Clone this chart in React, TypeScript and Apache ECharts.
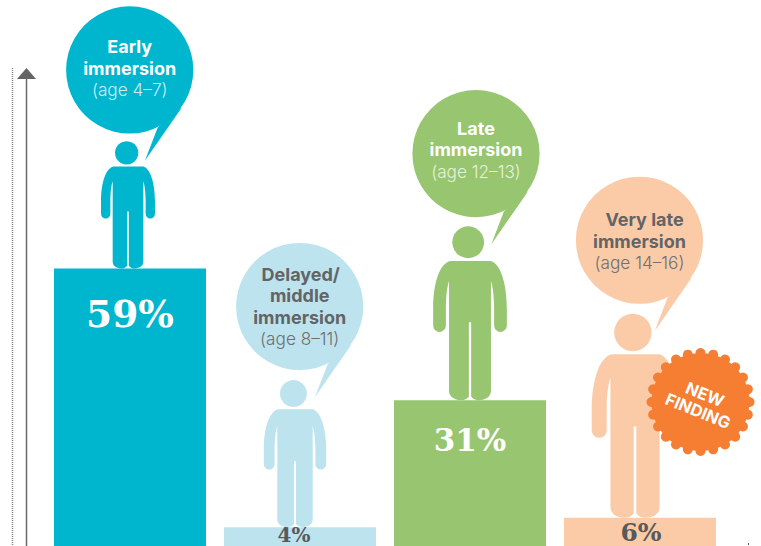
import React, { useEffect, useRef } from "react";
import * as echarts from "echarts";

// ---- data ----
const categories = [
  "Early immersion (age 4–7)",
  "Delayed/middle immersion (age 8–11)",
  "Late immersion (age 12–13)",
  "Very late immersion (age 14–16)",
];
const shares = [59, 4, 31, 6];
const valueLabels = ["59%", "4%", "31%", "6%"];
const bubbleTitles = [
  ["Early", "immersion"],
  ["Delayed/", "middle", "immersion"],
  ["Late", "immersion"],
  ["Very late", "immersion"],
];
const bubbleAges = ["(age 4–7)", "(age 8–11)", "(age 12–13)", "(age 14–16)"];
const badgeLines = ["NEW", "FINDING"];

// ---- styles and layout ----
const barColors = ["#00B6CE", "#BDE3EE", "#98C56F", "#FBCBA8"];
const titleColors = ["#FFFFFF", "#636466", "#FFFFFF", "#636466"];
const ageColors = ["#CDEEF4", "#6E7073", "#E6F1DA", "#6E7073"];
const labelColors = ["#FFFFFF", "#58595B", "#FFFFFF", "#58595B"];
const labelSizes = [37.5, 20, 31, 25];
const labelLineHeights = [44, 15, 36, 22];
const labelDistances = [24, 0.5, 22, 4];
const labelDx = [0, -6, 0, 1];
const personScales = [1 / 3, 0.385, 0.455, 0.534];
const personDx = [-2, -5, 0, -5];
const bubbleDx = [-0.3, -0.3, 6, -0.5];
const bubbleRise = [198.5, 220.7, 246.5, 277.5];
const textFirstDy = [-23.5, -32.3, -25.5, -20.5];
const firstLineDx = [0, 1, 0, 5];
const LINE = 21.6;
const R = 63.6;

const PERSON =
  "M-44 -306 L46 -306 C66 -300 81 -260 81 -200 L81 -165 C81 -145 53 -145 53 -165 L53 -200 C53 -230 50 -250 46 -262 L46 -20 C46 -5 30 0 20 0 C12 0 6 -3 2.5 -8 L2.5 -171 L-2.5 -171 L-2.5 -8 C-6 -3 -12 0 -20 0 C-30 0 -46 -5 -46 -20 L-46 -262 C-50 -250 -53 -230 -53 -200 L-53 -165 C-53 -145 -81 -145 -81 -165 L-81 -200 C-81 -260 -66 -300 -44 -306 Z";
echarts.graphic.registerShape("personShape", (echarts.graphic as any).extendPath(PERSON, {}));

const FONT = "Inter, 'Liberation Sans', Arial, sans-serif";

function renderFigure(_: any, api: any) {
  const i = api.value(0);
  const [cx, top] = api.coord([i, api.value(1)]);
  const s = personScales[i];
  const color = barColors[i];
  const px = cx + personDx[i];
  const bx = cx + bubbleDx[i];
  const by = top - bubbleRise[i];
  const children: any[] = [
    { type: "personShape", x: px, y: top, scaleX: s, scaleY: s, style: { fill: color } },
    { type: "circle", shape: { cx: px - 4 * s, cy: top - 347 * s, r: 35 * s }, style: { fill: color } },
    { type: "circle", shape: { cx: bx, cy: by, r: R }, style: { fill: color } },
    {
      type: "polygon",
      shape: { points: [[bx + 28, by + 57.5], [bx + 15.3, by + 90.6], [bx + 52.5, by + 37]] },
      style: { fill: color },
    },
  ];
  let y = by + textFirstDy[i];
  bubbleTitles[i].forEach((t, k) => {
    children.push({
      type: "text",
      x: bx + (k === 0 ? firstLineDx[i] : 0),
      y,
      style: { text: t, fill: titleColors[i], font: `bold 18px ${FONT}`, textAlign: "center", textVerticalAlign: "middle" },
    });
    y += LINE;
  });
  children.push({
    type: "text",
    x: bx,
    y,
    style: { text: bubbleAges[i], fill: ageColors[i], font: `300 17.2px ${FONT}`, textAlign: "center", textVerticalAlign: "middle" },
  });
  return { type: "group", children };
}

function badge() {
  const cx = 700.5, cy = 402, n = 24;
  const bumps: any[] = [];
  for (let k = 0; k < n; k++) {
    const a = (k / n) * Math.PI * 2;
    bumps.push({ type: "circle", z: 20, shape: { cx: cx + 49 * Math.cos(a), cy: cy + 49 * Math.sin(a), r: 5 }, style: { fill: "#F57E33" } });
  }
  bumps.push({ type: "circle", z: 20, shape: { cx, cy, r: 49 }, style: { fill: "#F57E33" } });
  const rot = -22 * (Math.PI / 180);
  bumps.push({
    type: "text", z: 21, x: 705, y: 394.5, rotation: rot,
    style: { text: badgeLines[0], fill: "#FFFFFF", font: `bold 16.5px ${FONT}`, textAlign: "center", textVerticalAlign: "middle" },
  });
  bumps.push({
    type: "text", z: 21, x: 698, y: 411, rotation: rot,
    style: { text: badgeLines[1], fill: "#FFFFFF", font: `bold 16.5px ${FONT}`, textAlign: "center", textVerticalAlign: "middle" },
  });
  return bumps;
}

export default function App() {
  const ref = useRef<HTMLDivElement>(null);
  useEffect(() => {
    document.body.style.margin = "0";
    const chart = echarts.init(ref.current!, undefined, { renderer: "svg" });
    chart.setOption({
      animation: false,
      backgroundColor: "#FFFFFF",
      tooltip: { show: false },
      grid: { left: 45, width: 680, top: 75.6, height: 471.4 },
      xAxis: { type: "category", data: categories, axisLine: { show: false }, axisTick: { show: false }, axisLabel: { show: false } },
      yAxis: { type: "value", min: 0, max: 100, axisLine: { show: false }, axisTick: { show: false }, axisLabel: { show: false }, splitLine: { show: false } },
      series: [
        {
          type: "bar",
          barWidth: 152,
          silent: true,
          clip: false,
          data: shares.map((v, i) => ({
            value: v,
            itemStyle: { color: barColors[i] },
            label: {
              show: true,
              position: "insideTop",
              distance: labelDistances[i],
              offset: [labelDx[i], 0],
              formatter: valueLabels[i],
              color: labelColors[i],
              fontFamily: "'DejaVu Serif', serif",
              fontWeight: "bold",
              fontSize: labelSizes[i],
              lineHeight: labelLineHeights[i],
            },
          })),
        },
        {
          type: "custom",
          silent: true,
          clip: false,
          renderItem: renderFigure,
          encode: { x: 0, y: 1 },
          data: shares.map((v, i) => [i, v]),
          z: 3,
        },
      ],
      graphic: [
        { type: "line", shape: { x1: 12.5, y1: 68, x2: 12.5, y2: 546 }, style: { stroke: "#888", lineWidth: 1.5, lineDash: [1, 1] } },
        { type: "line", shape: { x1: 26.5, y1: 76, x2: 26.5, y2: 546 }, style: { stroke: "#6A6A6C", lineWidth: 1.5 } },
        { type: "polygon", shape: { points: [[17, 79], [36, 79], [26.5, 68]] }, style: { fill: "#636466" } },
        { type: "rect", shape: { x: 748, y: 543, width: 1, height: 2 }, style: { fill: "#555" } },
        { type: "group", children: badge() },
      ],
    });
    return () => chart.dispose();
  }, []);
  return <div ref={ref} style={{ width: 761, height: 546 }} />;
}
